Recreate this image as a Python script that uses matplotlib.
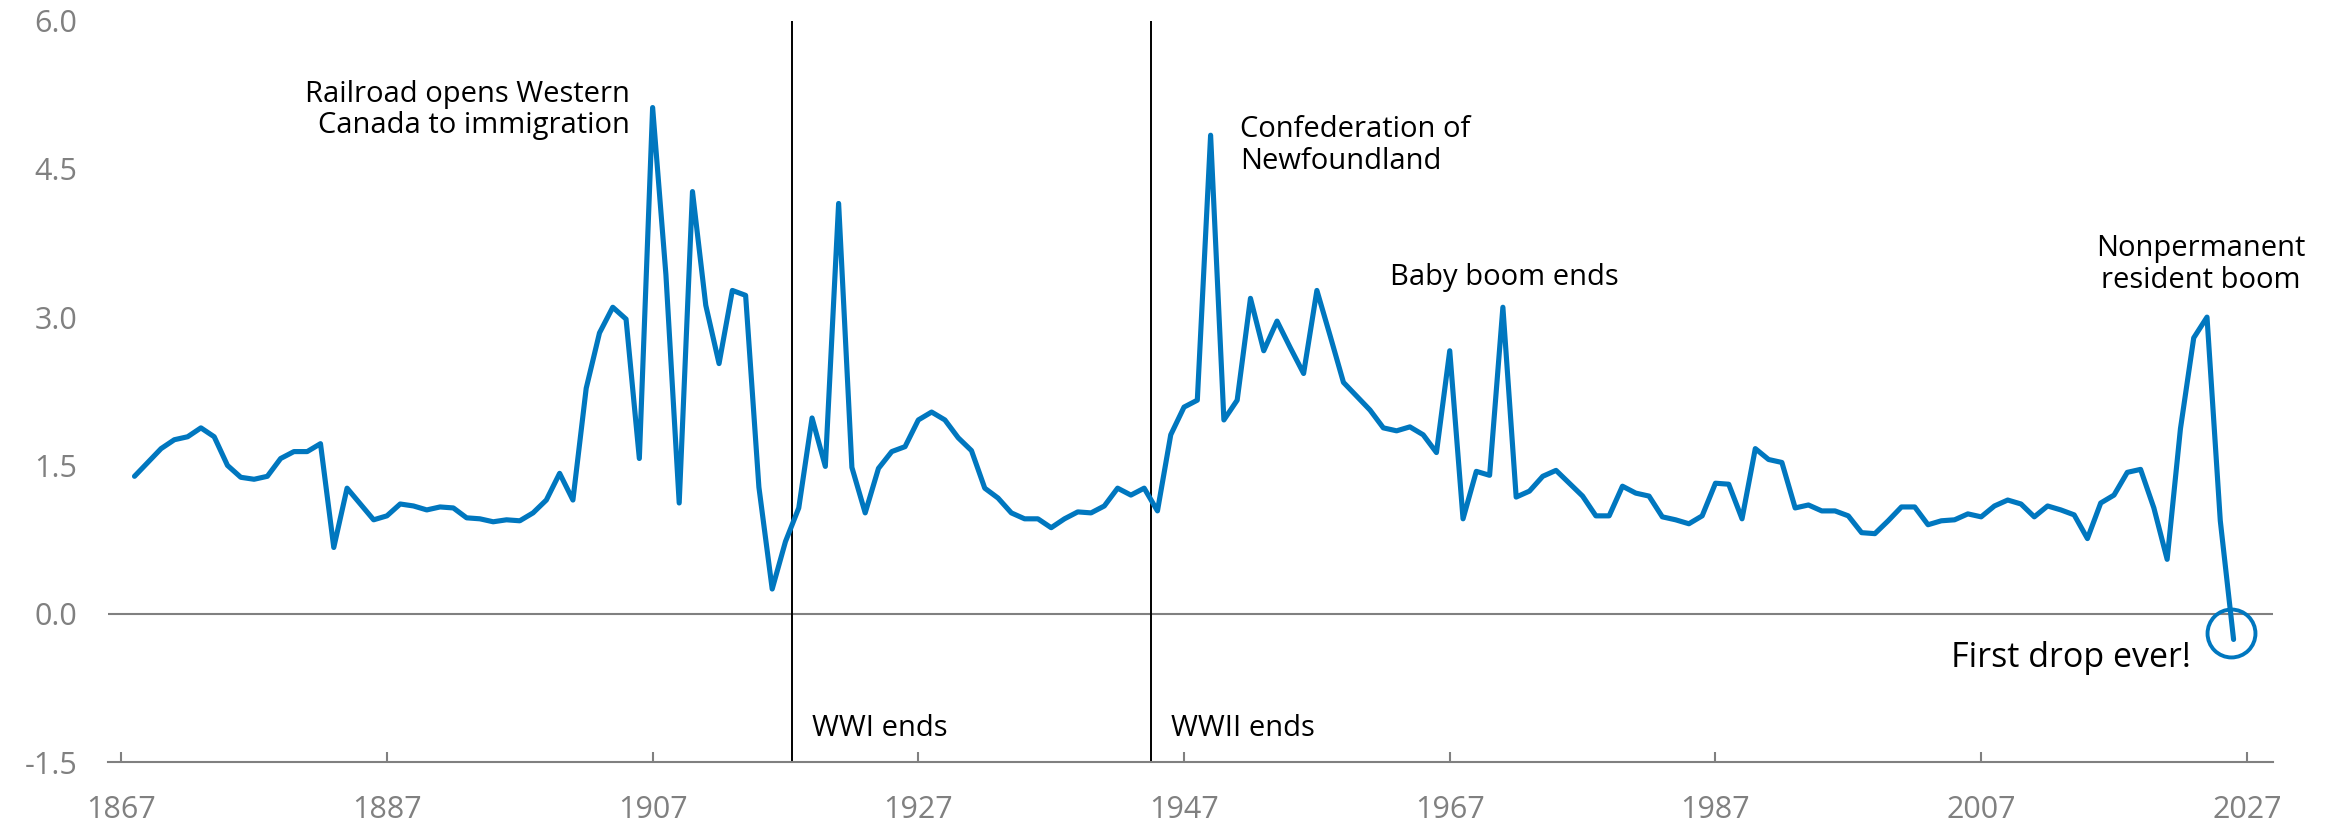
import matplotlib.pyplot as plt

plt.rcParams['font.family'] = ['Open Sans', 'DejaVu Sans']

# Population growth, %
years = list(range(1868, 2027))
growth = [
    1.39, 1.53, 1.67, 1.76, 1.79, 1.88, 1.79, 1.50, 1.38, 1.36,   # 1868-1877
    1.39, 1.57, 1.64, 1.64, 1.72, 0.67, 1.27, 1.11, 0.95, 0.99,   # 1878-1887
    1.11, 1.09, 1.05, 1.08, 1.07, 0.97, 0.96, 0.93, 0.95, 0.94,   # 1888-1897
    1.02, 1.15, 1.42, 1.15, 2.28, 2.84, 3.10, 2.98, 1.57, 5.12,   # 1898-1907
    3.43, 1.12, 4.27, 3.12, 2.53, 3.27, 3.22, 1.28, 0.25, 0.73,   # 1908-1917
    1.07, 1.98, 1.49, 4.15, 1.48, 1.02, 1.47, 1.64, 1.69, 1.96,   # 1918-1927
    2.04, 1.96, 1.78, 1.65, 1.27, 1.17, 1.02, 0.96, 0.96, 0.87,   # 1928-1937
    0.96, 1.03, 1.02, 1.09, 1.27, 1.20, 1.27, 1.04, 1.81, 2.09,   # 1938-1947
    2.16, 4.84, 1.96, 2.16, 3.19, 2.66, 2.96, 2.69, 2.43, 3.27,   # 1948-1957
    2.81, 2.34, 2.20, 2.06, 1.88, 1.85, 1.89, 1.81, 1.63, 2.66,   # 1958-1967
    0.96, 1.44, 1.40, 3.10, 1.18, 1.24, 1.39, 1.45, 1.32, 1.19,   # 1968-1977
    0.99, 0.99, 1.29, 1.22, 1.19, 0.98, 0.95, 0.91, 0.99, 1.32,   # 1978-1987
    1.31, 0.96, 1.67, 1.56, 1.53, 1.07, 1.10, 1.04, 1.04, 0.99,   # 1988-1997
    0.82, 0.81, 0.94, 1.08, 1.08, 0.90, 0.94, 0.95, 1.01, 0.98,   # 1998-2007
    1.09, 1.15, 1.11, 0.98, 1.09, 1.05, 1.00, 0.76, 1.12, 1.20,   # 2008-2017
    1.43, 1.46, 1.07, 0.55, 1.87, 2.79, 3.00, 0.94, -0.26,        # 2018-2026
]

x_ticks = [1867, 1887, 1907, 1927, 1947, 1967, 1987, 2007, 2027]
y_ticks = [-1.5, 0.0, 1.5, 3.0, 4.5, 6.0]
y_labels = ['-1.5', '0.0', '1.5', '3.0', '4.5', '6.0']

# war lines and the "first drop" marker
war_lines = [1917.5, 1944.5]
drop_point = (2025.8, -0.19)

blue = '#0077BF'
grey = '#808080'

fig = plt.figure(figsize=(23.26, 8.24), dpi=100)
ax = fig.add_axes([0.0464, 0.0752, 0.931, 0.8999])

ax.axhline(0, color=grey, lw=1.5, zorder=1)
for xv in war_lines:
    ax.axvline(xv, color='black', lw=1.4, zorder=1)

ax.plot(years, growth, color=blue, lw=3.7, solid_joinstyle='round',
        solid_capstyle='round', zorder=3)
ax.plot(*drop_point, marker='o', ms=34.5, mfc='none', mec=blue, mew=2.8, zorder=4)

ax.set_xlim(1866, 2029)
ax.set_ylim(-1.5, 6.0)
ax.set_xticks(x_ticks)
ax.set_yticks(y_ticks)
ax.set_yticklabels(y_labels)

for s in ['top', 'right', 'left']:
    ax.spines[s].set_visible(False)
ax.spines['bottom'].set_color(grey)
ax.spines['bottom'].set_linewidth(1.5)
ax.tick_params(axis='x', direction='in', length=7, width=1.5, color=grey,
               labelsize=22, labelcolor=grey, pad=24)
ax.tick_params(axis='y', length=0, labelsize=22, labelcolor=grey, pad=22)

# annotations
ax.text(1905.3, 5.40, 'Railroad opens Western\nCanada to immigration', ha='right', va='top',
        fontsize=21, linespacing=1.12)
ax.text(1951.2, 5.04, 'Confederation of\nNewfoundland', ha='left', va='top',
        fontsize=21, linespacing=1.12)
ax.text(1962.5, 3.32, 'Baby boom ends', ha='left', va='baseline', fontsize=21)
ax.text(2023.5, 3.84, 'Nonpermanent\nresident boom', ha='center', va='top',
        fontsize=21, linespacing=1.12)
ax.text(2022.8, -0.54, 'First drop ever!', ha='right', va='baseline', fontsize=24.5)
ax.text(1919.0, -1.24, 'WWI ends', ha='left', va='baseline', fontsize=21)
ax.text(1946.0, -1.24, 'WWII ends', ha='left', va='baseline', fontsize=21)

fig.savefig('out.png', dpi=100)
